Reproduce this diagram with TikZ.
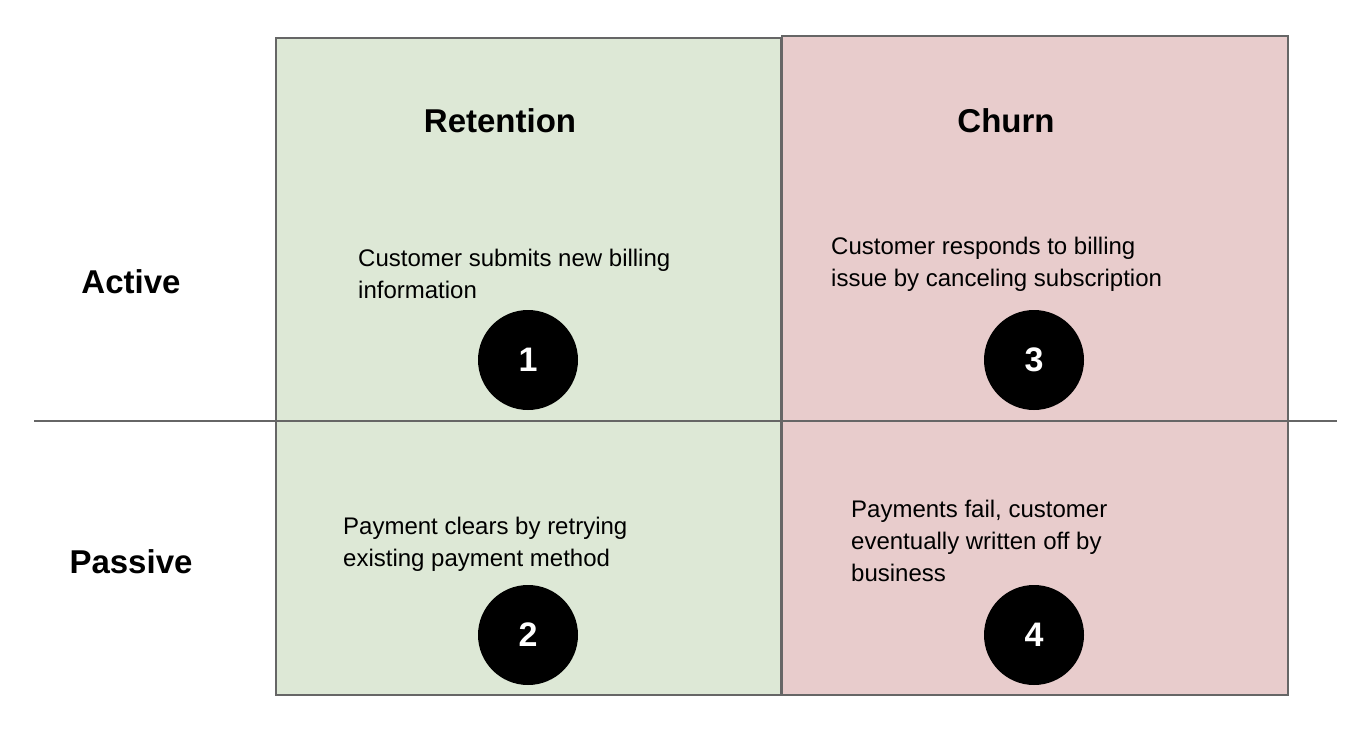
\documentclass[tikz,border=0pt]{standalone}
\usepackage{fontspec}
\setmainfont{Liberation Sans}
\begin{document}
\begin{tikzpicture}[x=1pt,y=-1pt,
  box/.style={draw=black!60,line width=1.2pt},
  hdr/.style={font=\fontsize{33}{38}\selectfont\bfseries},
  body/.style={font=\fontsize{24}{32}\selectfont,align=left,anchor=north west,inner sep=0pt},
  num/.style={circle,fill=black,minimum size=100pt,inner sep=0pt,text=white,font=\fontsize{34}{38}\selectfont\bfseries}]
\useasboundingbox (0,0) rectangle (1368,739);
\fill[fill=white] (0,0) rectangle (1368,739);
\draw[box,fill={rgb,255:red,221;green,232;blue,214}] (276,38) rectangle (781,695);
\draw[box,fill={rgb,255:red,232;green,204;blue,204}] (782,36) rectangle (1288,695);
\coordinate (l) at (34,421); \coordinate (r) at (1337,421);
\draw[black!60,line width=1.2pt] (l) -- (r);
\node[hdr] (ret) at (500,121) {Retention};
\node[hdr] (chu) at (1006,121) {Churn};
\node[hdr] (act) at (131,282) {Active};
\node[hdr] (pas) at (131,562) {Passive};
\node[body] (t1) at (358,249) {Customer submits new billing\\information};
\node[body] (t3) at (831,237) {Customer responds to billing\\issue by canceling subscription};
\node[body] (t2) at (343,517) {Payment clears by retrying\\existing payment method};
\node[body] (t4) at (851,500) {Payments fail, customer\\eventually written off by\\business};
\node[num] (n1) at (528,360) {1};
\node[num] (n3) at (1034,360) {3};
\node[num] (n2) at (528,635) {2};
\node[num] (n4) at (1034,635) {4};
\end{tikzpicture}
\end{document}
